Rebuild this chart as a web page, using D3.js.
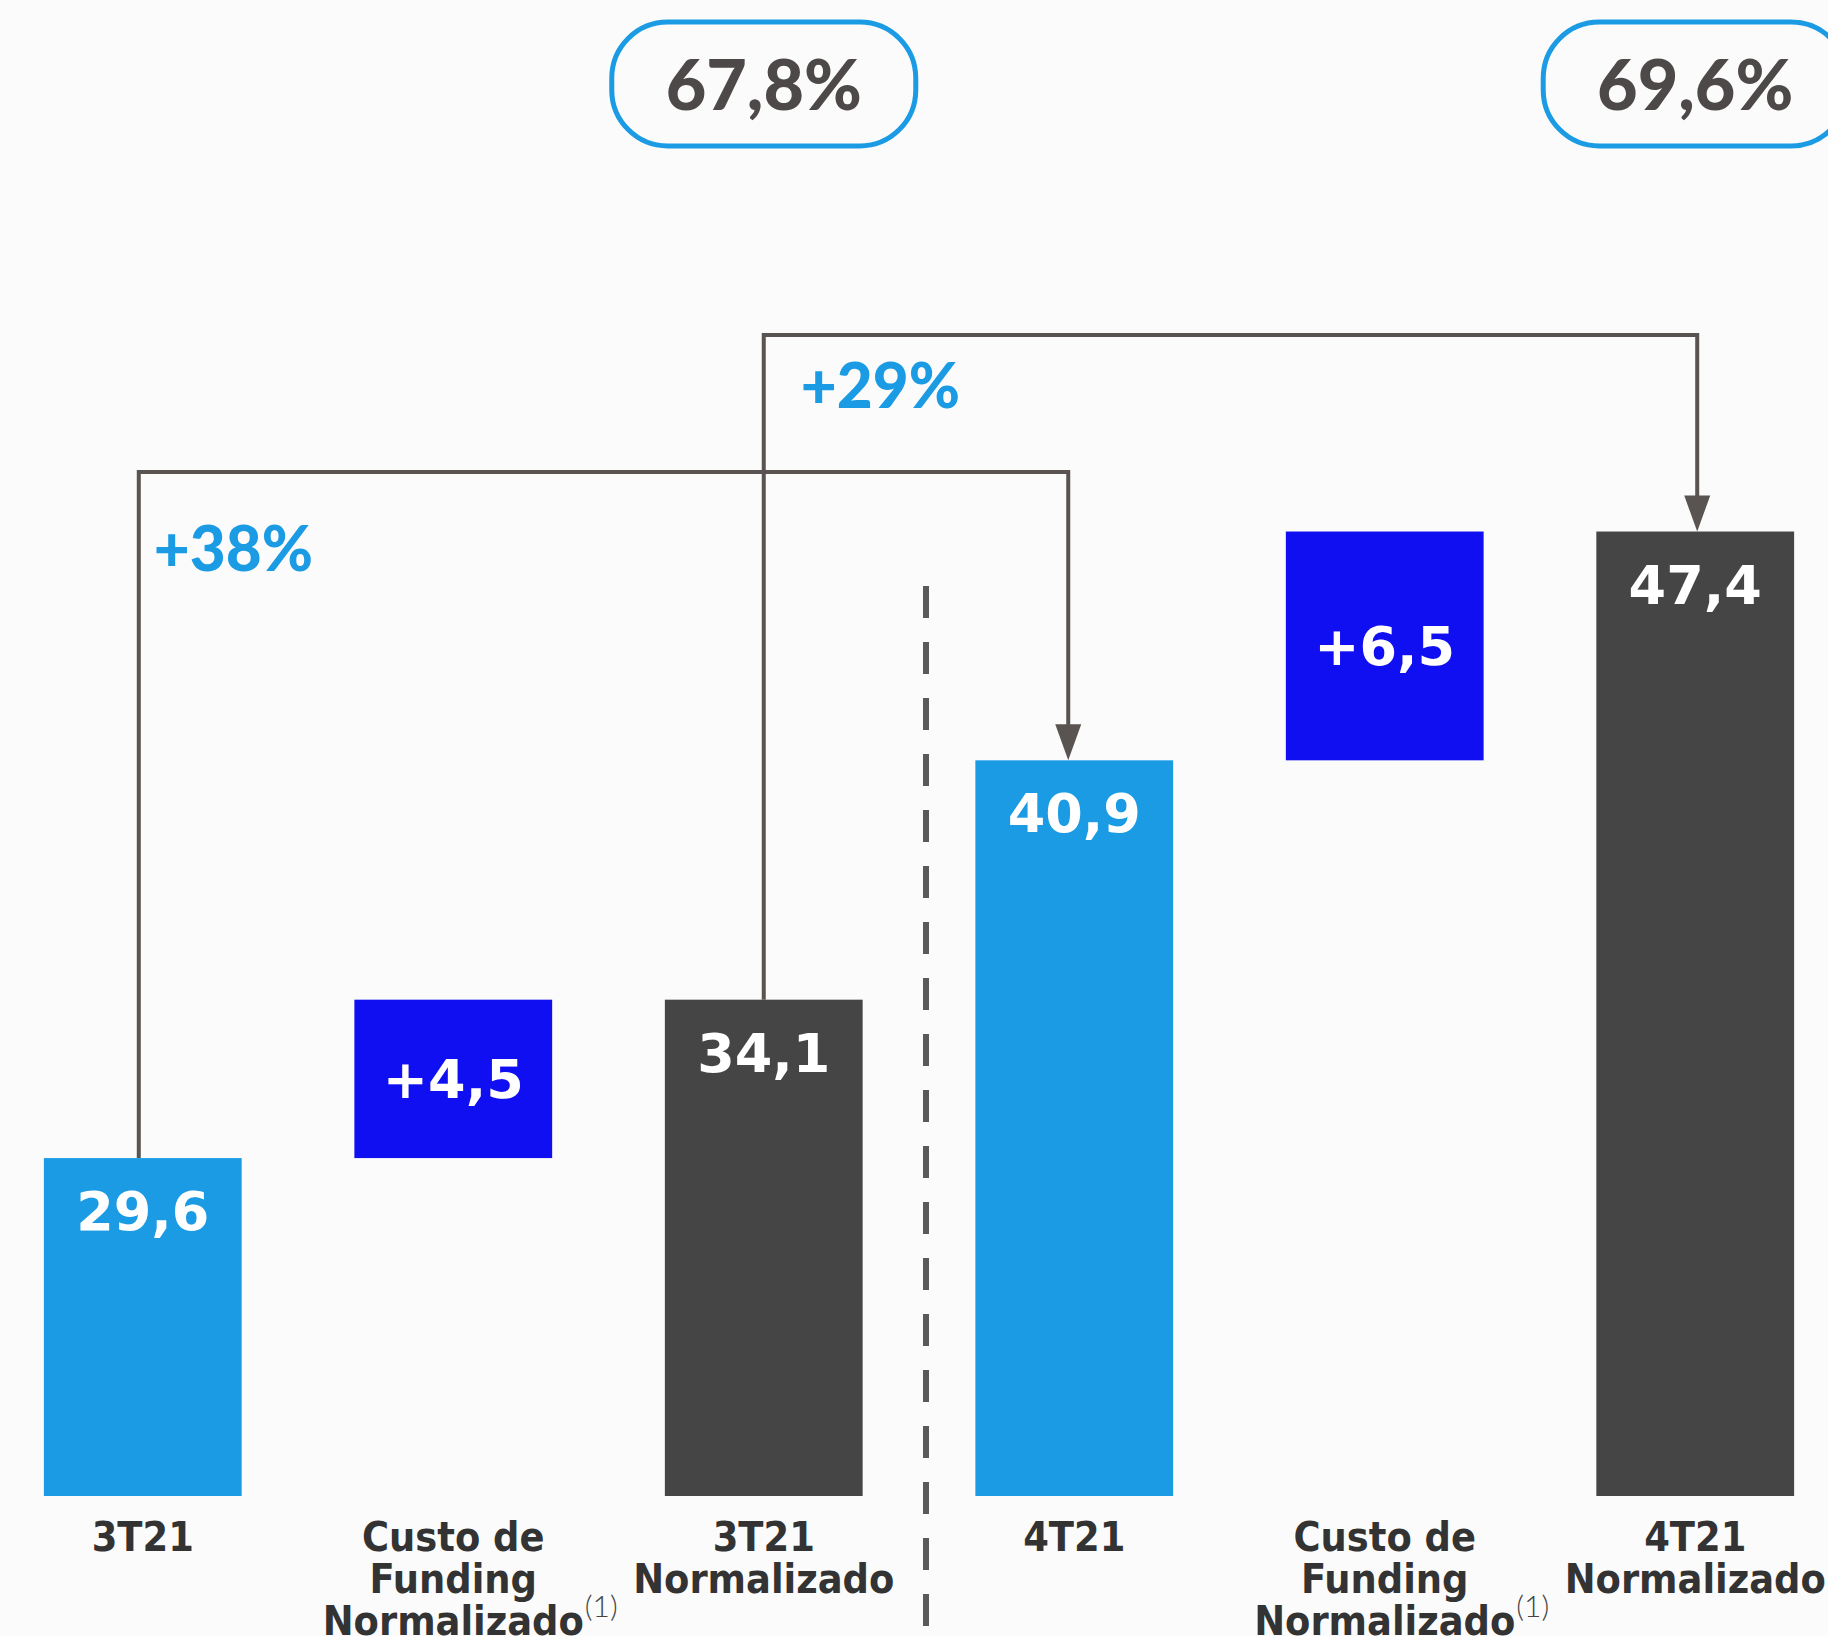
<!DOCTYPE html>
<html lang="pt">
<head>
<meta charset="UTF-8">
<title>Custo de Funding Normalizado</title>
<script src="https://cdn.jsdelivr.net/npm/d3@7"></script>
<style>
    body { margin: 0; background: #fbfbfb; }
    svg { display: block; }
    .cat { font-family: "DejaVu Sans Condensed", "DejaVu Sans", sans-serif; font-weight: bold; font-stretch: condensed; fill: #333; }
    .val { font-family: "DejaVu Sans", Verdana, sans-serif; font-weight: bold; fill: #fff; }
    .pct { font-family: Lato, sans-serif; font-weight: 900; fill: #1a9be3; }
    .badge text { font-family: Lato, sans-serif; font-weight: 900; fill: #4d4948; }
</style>
</head>
<body>
<svg width="1828" height="1636"></svg>
<script>
// data
const categories = ["3T21", "Custo de Funding Normalizado", "3T21 Normalizado", "4T21", "Custo de Funding Normalizado", "4T21 Normalizado"];
const labelLines = [["3T21"], ["Custo de", "Funding", "Normalizado"], ["3T21", "Normalizado"], ["4T21"], ["Custo de", "Funding", "Normalizado"], ["4T21", "Normalizado"]];
const values = [29.6, 4.5, 34.1, 40.9, 6.5, 47.4];
const kinds = ["total", "delta", "norm", "total", "delta", "norm"];
const ratioLabels = ["67,8%", "69,6%"];       // over the normalized bars
const growthFrom = [0, 2];
const growthTo = [3, 5];
const growthLabels = ["+38%", "+29%"];

const colors = { total: "#1b9be4", delta: "#100ff2", norm: "#464546" };

const svg = d3.select("svg");
const W = 1828, H = 1636;
svg.append("rect").attr("width", W).attr("height", H).attr("fill", "#fbfbfb");

const x = d3.scaleBand().domain(d3.range(categories.length))
    .range([-12, 1850]).paddingInner(0.363).paddingOuter(0.18);
const y = d3.scaleLinear().domain([20, 62]).range([1496, 1496 - 42 * 35.2]);

// waterfall bases
const bars = values.map((v, i) => {
    const base = kinds[i] === "delta" ? values[i - 1] : 20;
    return { i, v, base, top: kinds[i] === "delta" ? values[i - 1] + v : v, kind: kinds[i] };
});

const fmt = v => v.toFixed(1).replace(".", ",");

// dashed separator between the quarters
const sepX = (x(2) + x.bandwidth() + x(3)) / 2 + 7;
svg.append("line")
    .attr("x1", sepX).attr("x2", sepX)
    .attr("y1", 586).attr("y2", 1628)
    .attr("stroke", "#5a5a5a").attr("stroke-width", 6)
    .attr("stroke-dasharray", "32 24");

// bars
svg.selectAll("rect.bar").data(bars).join("rect")
    .attr("class", "bar")
    .attr("x", d => x(d.i))
    .attr("width", x.bandwidth())
    .attr("y", d => y(d.top))
    .attr("height", d => y(d.base) - y(d.top))
    .attr("fill", d => colors[d.kind]);

// values
svg.selectAll("text.val").data(bars).join("text")
    .attr("class", "val")
    .attr("x", d => x(d.i) + x.bandwidth() / 2)
    .attr("y", d => d.kind === "delta" ? (y(d.top) + y(d.base)) / 2 : y(d.top) + 72)
    .attr("dy", d => d.kind === "delta" ? "0.36em" : null)
    .attr("text-anchor", "middle")
    .attr("font-size", 54)
    .text(d => (d.kind === "delta" ? "+" : "") + fmt(d.v));

// growth brackets
const bracketY = [472, 335];
const lineShift = [[-4, -6], [0, 2]];
const pctOffset = [[15, 99], [37, 73]];
const arrowW = 26, arrowH = 36;
growthFrom.forEach((f, k) => {
    const t = growthTo[k];
    const x0 = x(f) + x.bandwidth() / 2 + lineShift[k][0];
    const x1 = x(t) + x.bandwidth() / 2 + lineShift[k][1];
    const yTip = y(values[t]);
    svg.append("path")
        .attr("d", `M${x0},${y(values[f])}V${bracketY[k]}H${x1}V${yTip - arrowH + 4}`)
        .attr("fill", "none").attr("stroke", "#595451").attr("stroke-width", 4);
    svg.append("path")
        .attr("d", `M${x1 - arrowW / 2},${yTip - arrowH}L${x1 + arrowW / 2},${yTip - arrowH}L${x1},${yTip}Z`)
        .attr("fill", "#595451");
    svg.append("text").attr("class", "pct")
        .attr("x", x0 + pctOffset[k][0]).attr("y", bracketY[k] + pctOffset[k][1])
        .attr("font-size", 62)
        .text(growthLabels[k]);
});

// ratio badges
const normIdx = kinds.map((k, i) => k === "norm" ? i : -1).filter(i => i >= 0);
normIdx.forEach((i, k) => {
    const cx = x(i) + x.bandwidth() / 2;
    const g = svg.append("g").attr("class", "badge");
    g.append("rect")
        .attr("x", cx - 152).attr("y", 22).attr("width", 304).attr("height", 124)
        .attr("rx", 56).attr("ry", 56)
        .attr("fill", "#fbfbfb").attr("stroke", "#1b9be4").attr("stroke-width", 5);
    g.append("text").attr("x", cx).attr("y", 110)
        .attr("text-anchor", "middle").attr("font-size", 70)
        .text(ratioLabels[k]);
});

// category labels
const lab = svg.selectAll("g.lab").data(labelLines).join("g")
    .attr("class", "lab")
    .attr("transform", (d, i) => `translate(${x(i) + x.bandwidth() / 2},1551)`);
lab.each(function (lines, i) {
    const t = d3.select(this).append("text").attr("class", "cat")
        .attr("text-anchor", "middle").attr("font-size", 41);
    lines.forEach((s, j) => {
        t.append("tspan").attr("x", 0).attr("y", j * 42).text(s);
    });
    if (kinds[i] === "delta") {
        const bb = t.node().getBBox();
        d3.select(this).append("text")
            .attr("x", bb.x + bb.width + 1).attr("y", 2 * 42 - 18)
            .attr("font-family", "Lato, sans-serif").attr("font-weight", 300)
            .attr("font-size", 30).attr("fill", "#444")
            .text("(1)");
    }
});
</script>
</body>
</html>
